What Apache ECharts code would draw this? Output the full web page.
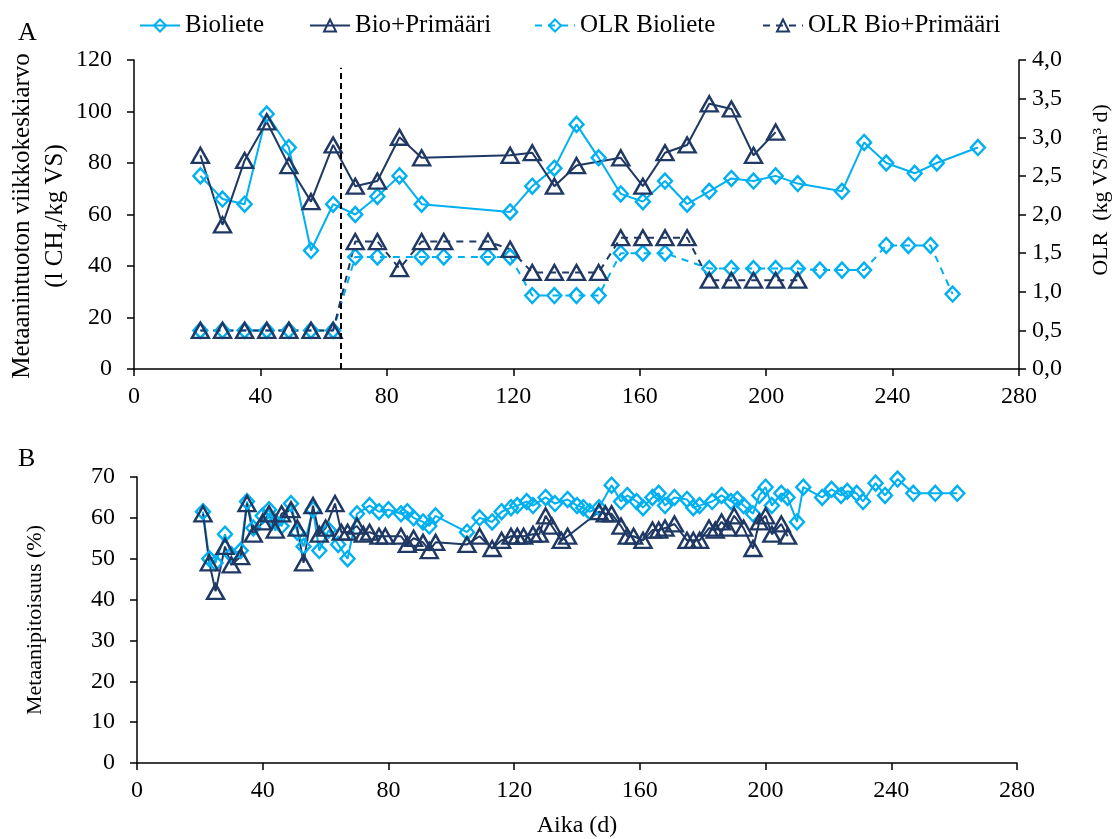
<!DOCTYPE html>
<html><head><meta charset="utf-8">
<script src="https://cdn.jsdelivr.net/npm/echarts@6/dist/echarts.min.js"></script>
<style>html,body{margin:0;padding:0;background:#fff}#c{width:1118px;height:839px}</style>
</head><body><div id="c"></div>
<script>
// ---------- DATA ----------
const seriesNames = ['Bioliete', 'Bio+Primääri', 'OLR Bioliete', 'OLR Bio+Primääri'];
const transitionDay = 65.5;

// Panel A: weekly methane yield (l CH4/kg VS)
const bioDaysA = [21,28,35,42,49,56,63,70,77,84,91,119,126,133,140,147,154,161,168,175,182,189,196,203,210,224,231,238,247,254,267];
const bioValsA = [75,66,64,99,86,46,64,60,67,75,64,61,71,78,95,82,68,65,73,64,69,74,73,75,72,69,88,80,76,80,86];
const bpDaysA  = [21,28,35,42,49,56,63,70,77,84,91,119,126,133,140,154,161,168,175,182,189,196,203];
const bpValsA  = [83,56,81,96,79,65,87,71,73,90,82,83,84,71,79,82,71,84,87,103,101,83,92];

// Panel A: OLR (kg VS/m3 d)
const olrBioDays = [21,28,35,42,49,56,63,70,77,91,98,112,119,126,133,140,147,154,161,168,182,189,196,203,210,217,224,231,238,245,252,259];
const olrBioVals = [0.5,0.5,0.5,0.5,0.5,0.5,0.5,1.45,1.45,1.45,1.45,1.45,1.45,0.95,0.95,0.95,0.95,1.5,1.5,1.5,1.3,1.3,1.3,1.3,1.3,1.28,1.28,1.28,1.6,1.6,1.6,0.97];
const olrBpDays  = [21,28,35,42,49,56,63,70,77,84,91,98,112,119,126,133,140,147,154,161,168,175,182,189,196,203,210];
const olrBpVals  = [0.5,0.5,0.5,0.5,0.5,0.5,0.5,1.65,1.65,1.3,1.65,1.65,1.65,1.55,1.25,1.25,1.25,1.25,1.7,1.7,1.7,1.7,1.15,1.15,1.15,1.15,1.15];

// Panel B: methane content (%)
const bioDaysB = [21,23,25,28,30,33,35,37,40,42,44,46,49,51,53,56,58,61,64,67,70,74,77,80,84,86,88,91,93,95,105,109,113,116,119,121,124,126,130,133,137,140,142,144,147,151,154,156,159,161,164,166,168,171,175,177,179,183,186,189,191,193,196,198,200,202,205,207,210,212,218,221,224,226,229,231,235,238,242,247,254,261];
const bioValsB = [61.5,50,49,56,51,52,64,57.5,60.5,62,59,58,63.5,56.5,53,62,52,57,53.5,50,61,63,61.5,62,61,61.5,60,59,58,60.5,56.5,60,59,61.5,62.5,63,64,63,65,63.5,64.5,63,62.5,61.5,62.5,68,64,65.5,64,62.5,65,66,63,65,64.5,62.5,63,64,65.5,64,64.5,63,61,65.5,67.5,63,66,65,59,67.5,65,67,65.5,66.5,66,64,68.5,65.5,69.5,66,66,66];
const bpDaysB = [21,23,25,28,30,33,35,37,40,42,44,46,49,51,53,56,58,60,63,65,67,70,72,74,77,79,84,86,88,91,93,95,105,109,113,116,119,121,123,126,128,130,132,135,137,147,149,151,154,156,158,161,164,166,168,171,175,177,179,182,184,186,188,190,193,196,198,200,202,205,207];
const bpValsB = [61,49,42,53,48.5,50.5,63.5,56,59,61,57,61,62,57.5,49,63,56,57.5,63.5,56.5,56.5,58,56,56.5,55.5,55.5,55.5,53.5,55,54,52,54,53.5,55.5,52.5,54.5,55.5,55.5,55.5,56,56,60.5,58,54.5,55.5,61.5,61,61,58,55.5,55.5,54.5,57,57,57.5,58.5,54.5,54.5,54.5,57.5,57,59,57.5,60.5,57.5,52.5,59,60.5,56,58.5,55.5];

// Axis ticks
const xMin = 0, xMax = 280, xStep = 40;
const yA = {min: 0, max: 120, step: 20};
const yOLR = {min: 0, max: 4, step: 0.5};
const yB = {min: 0, max: 70, step: 10};

// ---------- STYLE ----------
const LB = '#00B0F0', DB = '#1F3864';
const FF = "'Liberation Serif', 'DejaVu Serif', serif";
const FS = 24;
const zip = (xs, ys) => xs.map((x, i) => [x, ys[i]]);

function mkSeries(name, data, xi, yi, color, kind, dashed, extra) {
  const isDia = kind === 'd';
  return Object.assign({
    name, type: 'line', xAxisIndex: xi, yAxisIndex: yi, data,
    symbol: isDia ? 'diamond' : 'triangle',
    symbolSize: isDia ? [14, 15] : [17, 15],
    itemStyle: {color: 'rgba(255,255,255,0)', borderColor: color, borderWidth: 2.4},
    lineStyle: {color, width: 2, type: dashed ? [7, 6] : 'solid'},
    emphasis: {disabled: true},
    animation: false,
    z: 2
  }, extra || {});
}

const axisCommon = {
  axisLine: {show: true, lineStyle: {color: '#000', width: 1.5}},
  axisTick: {show: true, length: 7, lineStyle: {color: '#000', width: 1.5}},
  splitLine: {show: false},
  axisLabel: {color: '#000', fontFamily: FF, fontSize: FS}
};

function vline(top) {
  return {
    symbol: 'none', silent: true, animation: false,
    label: {show: false},
    lineStyle: {color: '#000', type: [6, 4], width: 2},
    data: [[{coord: [transitionDay, 0]}, {coord: [transitionDay, top]}]]
  };
}

const chart = echarts.init(document.getElementById('c'), null, {renderer: 'canvas'});
const legendLefts = [134, 304, 529, 757];

const xAx = (gi) => Object.assign({}, axisCommon, {type: 'value', gridIndex: gi, min: xMin, max: xMax, interval: xStep,
  axisLabel: Object.assign({}, axisCommon.axisLabel, {margin: 16})});

const option = {
  backgroundColor: '#fff',
  animation: false,
  grid: [
    {left: 134, width: 885, top: 60, height: 309, containLabel: false},
    {left: 137, width: 880, top: 477, height: 286, containLabel: false}
  ],
  legend: seriesNames.map((n, i) => ({
    data: [n], left: legendLefts[i], top: 8, itemWidth: 40, itemHeight: 15, itemGap: 0,
    selectedMode: false,
    textStyle: {fontFamily: FF, fontSize: 25, color: '#000'}
  })),
  xAxis: [xAx(0), xAx(1)],
  yAxis: [
    Object.assign({}, axisCommon, {type: 'value', gridIndex: 0, min: yA.min, max: yA.max, interval: yA.step,
      axisLabel: Object.assign({}, axisCommon.axisLabel, {margin: 22})}),
    Object.assign({}, axisCommon, {type: 'value', gridIndex: 0, position: 'right', min: yOLR.min, max: yOLR.max, interval: yOLR.step,
      axisLabel: Object.assign({}, axisCommon.axisLabel, {margin: 13, formatter: v => v.toFixed(1).replace('.', ',')})}),
    Object.assign({}, axisCommon, {type: 'value', gridIndex: 1, min: yB.min, max: yB.max, interval: yB.step,
      axisLabel: Object.assign({}, axisCommon.axisLabel, {margin: 22})})
  ],
  series: [
    mkSeries('Bioliete', zip(bioDaysA, bioValsA), 0, 0, LB, 'd', false, {clip: false, markLine: vline(117)}),
    mkSeries('Bio+Primääri', zip(bpDaysA, bpValsA), 0, 0, DB, 't', false),
    mkSeries('OLR Bioliete', zip(olrBioDays, olrBioVals), 0, 1, LB, 'd', true),
    mkSeries('OLR Bio+Primääri', zip(olrBpDays, olrBpVals), 0, 1, DB, 't', true),
    mkSeries('Bioliete', zip(bioDaysB, bioValsB), 1, 2, LB, 'd', false, {clip: false, markLine: vline(74)}),
    mkSeries('Bio+Primääri', zip(bpDaysB, bpValsB), 1, 2, DB, 't', false)
  ],
  graphic: [
    {type: 'text', left: 18, top: 20, style: {text: 'A', fontFamily: FF, fontSize: 26, fill: '#000'}},
    {type: 'text', left: 18, top: 446, style: {text: 'B', fontFamily: FF, fontSize: 26, fill: '#000'}},
    {type: 'text', x: 22, y: 216, rotation: Math.PI / 2,
      style: {text: 'Metaanintuoton viikkokeskiarvo', fontFamily: FF, fontSize: 25, fill: '#000', align: 'center', verticalAlign: 'middle'}},
    {type: 'text', x: 55, y: 216, rotation: Math.PI / 2,
      style: {text: '(l CH₄/kg VS)', fontFamily: FF, fontSize: 25, fill: '#000', align: 'center', verticalAlign: 'middle'}},
    {type: 'text', x: 1101, y: 190, rotation: Math.PI / 2,
      style: {text: 'OLR  (kg VS/m³ d)', fontFamily: FF, fontSize: 22, fill: '#000', align: 'center', verticalAlign: 'middle'}},
    {type: 'text', x: 35, y: 620, rotation: Math.PI / 2,
      style: {text: 'Metaanipitoisuus (%)', fontFamily: FF, fontSize: 22, fill: '#000', align: 'center', verticalAlign: 'middle'}},
    {type: 'text', x: 577, y: 826,
      style: {text: 'Aika (d)', fontFamily: FF, fontSize: FS, fill: '#000', align: 'center', verticalAlign: 'middle'}}
  ]
};
chart.setOption(option);
</script>
</body></html>
